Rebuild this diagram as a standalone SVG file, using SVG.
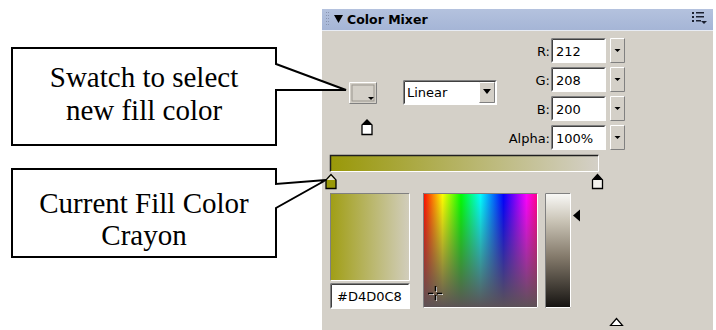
<svg xmlns="http://www.w3.org/2000/svg" width="716" height="330" viewBox="0 0 716 330">
  <style>
    .ui { font-family: "DejaVu Sans", "Liberation Sans", sans-serif; font-size: 13px; fill: #000; }
    .lbl { text-anchor: end; }
    .call { fill: #fff; stroke: #000; stroke-width: 2; stroke-linejoin: miter; }
    .ctext { font-family: "Liberation Serif", "Times New Roman", serif; font-size: 29px; fill: #000; text-anchor: middle; }
    .field { fill: #fff; }
    .sunkDark { fill: none; stroke: #404040; stroke-width: 1; }
    .sunkGray { fill: none; stroke: #808080; stroke-width: 1; }
    .btn { fill: #d4d0c8; }
    .hi { fill: none; stroke: #ffffff; stroke-width: 1; }
    .lo { fill: none; stroke: #808080; stroke-width: 1; }
    .crayon { stroke: #000; stroke-width: 1.3; stroke-linejoin: miter; }
  </style>
  <defs>
    <linearGradient id="titleGrad" x1="0" y1="0" x2="0" y2="1">
      <stop offset="0" stop-color="#b4c2de"/>
      <stop offset="1" stop-color="#a5b5d6"/>
    </linearGradient>
    <linearGradient id="rampGrad" x1="0" y1="0" x2="1" y2="0">
      <stop offset="0" stop-color="#999808"/>
      <stop offset="1" stop-color="#d4d0c8"/>
    </linearGradient>
    <linearGradient id="previewGrad" x1="0" y1="0" x2="1" y2="0">
      <stop offset="0" stop-color="#a09e14"/>
      <stop offset="1" stop-color="#d2cebe"/>
    </linearGradient>
    <linearGradient id="hueGrad" x1="0" y1="0" x2="1" y2="0">
      <stop offset="0" stop-color="#ff0000"/>
      <stop offset="0.17" stop-color="#ffff00"/>
      <stop offset="0.33" stop-color="#00ff00"/>
      <stop offset="0.5" stop-color="#00ffff"/>
      <stop offset="0.7" stop-color="#0000ff"/>
      <stop offset="0.9" stop-color="#ff00ff"/>
      <stop offset="1" stop-color="#ff0080"/>
    </linearGradient>
    <linearGradient id="satGrad" x1="0" y1="0" x2="0" y2="1">
      <stop offset="0" stop-color="#5c5256" stop-opacity="0"/>
      <stop offset="1" stop-color="#5c5256" stop-opacity="1"/>
    </linearGradient>
    <linearGradient id="lumGrad" x1="0" y1="0" x2="0" y2="1">
      <stop offset="0" stop-color="#fafaf8"/>
      <stop offset="0.25" stop-color="#c8c2b4"/>
      <stop offset="0.55" stop-color="#857b6c"/>
      <stop offset="1" stop-color="#141210"/>
    </linearGradient>
  </defs>

  <rect x="0" y="0" width="716" height="330" fill="#ffffff"/>

  <!-- Color Mixer panel -->
  <g id="panel">
    <rect x="322" y="9" width="391" height="321" fill="#d4d0c8"/>
    <rect x="322" y="9" width="391" height="21" fill="url(#titleGrad)"/>
    <line x1="322" y1="30.5" x2="713" y2="30.5" stroke="#e8ecf4" stroke-width="1"/>
    <!-- gripper -->
    <g fill="#8894b0">
      <rect x="326" y="12" width="1" height="1"/><rect x="328" y="12" width="1" height="1"/>
      <rect x="326" y="15" width="1" height="1"/><rect x="328" y="15" width="1" height="1"/>
      <rect x="326" y="18" width="1" height="1"/><rect x="328" y="18" width="1" height="1"/>
      <rect x="326" y="21" width="1" height="1"/><rect x="328" y="21" width="1" height="1"/>
      <rect x="326" y="24" width="1" height="1"/><rect x="328" y="24" width="1" height="1"/>
    </g>
    <polygon points="334,15 343,15 338.5,23" fill="#000"/>
    <text x="347" y="24" font-family="'DejaVu Sans', sans-serif" font-size="12.5" font-weight="bold" fill="#000">Color Mixer</text>
    <!-- panel menu icon -->
    <g fill="#1a2030">
      <rect x="692" y="12" width="2" height="2"/><rect x="696" y="12" width="8" height="1.5"/>
      <rect x="692" y="16" width="2" height="2"/><rect x="696" y="16" width="8" height="1.5"/>
      <rect x="692" y="20" width="2" height="2"/><rect x="696" y="20" width="5" height="1.5"/>
      <polygon points="701,21 707,21 704,24"/>
    </g>
  </g>

  <!-- fill swatch with its crayon -->
  <g id="swatch">
    <rect x="349" y="82" width="28" height="22" class="btn"/>
    <path d="M349.5,103.5 V82.5 H376.5" class="hi"/>
    <path d="M349.5,103.5 H376.5 V82.5" class="lo"/>
    <rect x="352" y="85" width="22" height="16" fill="#d4d0c8" stroke="#9a968e" stroke-width="1"/>
    <polygon points="368,97 374,97 371,100" fill="#000"/>
    <path d="M362,134.5 V125 L367,120 L372,125 V134.5 Z" class="crayon" fill="#fff"/>
    <polygon points="362,125 367,120 372,125" fill="#000"/>
  </g>

  <!-- fill type dropdown -->
  <g id="fill-type">
    <rect x="403" y="80" width="94" height="25" class="field"/>
    <path d="M403.5,104.5 V80.5 H496.5" class="sunkGray"/>
    <path d="M404.5,103.5 V81.5 H495.5" class="sunkDark"/>
    <rect x="479" y="82" width="16" height="21" class="btn"/>
    <path d="M479.5,102.5 V82.5 H494.5" class="hi"/>
    <path d="M479.5,102.5 H494.5 V82.5" class="lo"/>
    <polygon points="483,89 491,89 487,94" fill="#000"/>
    <text x="407" y="97" class="ui">Linear</text>
  </g>

  <!-- RGB / alpha fields -->
  <g id="rgb-fields">
    <g id="field-r">
      <text x="550" y="56" class="ui lbl">R:</text>
      <rect x="551" y="38" width="55" height="25" class="field"/>
      <path d="M551.5,62.5 V38.5 H605.5" class="sunkGray"/>
      <path d="M552.5,61.5 V39.5 H604.5" class="sunkDark"/>
      <text x="556" y="56" class="ui">212</text>
      <rect x="610" y="38" width="15" height="25" class="btn"/>
      <path d="M610.5,62.5 V38.5 H624.5" class="hi"/>
      <path d="M610.5,62.5 H624.5 V38.5" class="lo"/>
      <polygon points="614.5,49 620.5,49 617.5,52" fill="#000"/>
    </g>
    <g id="field-g">
      <text x="550" y="85" class="ui lbl">G:</text>
      <rect x="551" y="67" width="55" height="25" class="field"/>
      <path d="M551.5,91.5 V67.5 H605.5" class="sunkGray"/>
      <path d="M552.5,90.5 V68.5 H604.5" class="sunkDark"/>
      <text x="556" y="85" class="ui">208</text>
      <rect x="610" y="67" width="15" height="25" class="btn"/>
      <path d="M610.5,91.5 V67.5 H624.5" class="hi"/>
      <path d="M610.5,91.5 H624.5 V67.5" class="lo"/>
      <polygon points="614.5,78 620.5,78 617.5,81" fill="#000"/>
    </g>
    <g id="field-b">
      <text x="550" y="114" class="ui lbl">B:</text>
      <rect x="551" y="96" width="55" height="25" class="field"/>
      <path d="M551.5,120.5 V96.5 H605.5" class="sunkGray"/>
      <path d="M552.5,119.5 V97.5 H604.5" class="sunkDark"/>
      <text x="556" y="114" class="ui">200</text>
      <rect x="610" y="96" width="15" height="25" class="btn"/>
      <path d="M610.5,120.5 V96.5 H624.5" class="hi"/>
      <path d="M610.5,120.5 H624.5 V96.5" class="lo"/>
      <polygon points="614.5,107 620.5,107 617.5,110" fill="#000"/>
    </g>
    <g id="field-alpha">
      <text x="550" y="143" class="ui lbl">Alpha:</text>
      <rect x="551" y="125" width="55" height="25" class="field"/>
      <path d="M551.5,149.5 V125.5 H605.5" class="sunkGray"/>
      <path d="M552.5,148.5 V126.5 H604.5" class="sunkDark"/>
      <text x="556" y="143" class="ui">100%</text>
      <rect x="610" y="125" width="15" height="25" class="btn"/>
      <path d="M610.5,149.5 V125.5 H624.5" class="hi"/>
      <path d="M610.5,149.5 H624.5 V125.5" class="lo"/>
      <polygon points="614.5,136 620.5,136 617.5,139" fill="#000"/>
    </g>
  </g>

  <!-- gradient ramp with colour pointers -->
  <g id="gradient-ramp">
    <rect x="330" y="155" width="269" height="17" fill="url(#rampGrad)"/>
    <path d="M330.5,171.5 V155.5 H598.5" fill="none" stroke="#202020" stroke-width="1.5"/>
    <path d="M330.5,171.5 H598.5 V155.5" fill="none" stroke="#ffffff" stroke-width="1"/>
    <path d="M326,188.5 V180 L331,174.5 L336,180 V188.5 Z" class="crayon" fill="#999808"/>
    <polygon points="327,180 331,175.8 335,180" fill="#e8e6e0"/>
    <path d="M592.5,188.5 V180 L597.5,174.5 L602.5,180 V188.5 Z" class="crayon" fill="#f4f2ee"/>
    <polygon points="592.5,180 597.5,174.5 602.5,180" fill="#000"/>
  </g>

  <!-- preview swatch and hex field -->
  <g id="preview">
    <rect x="330" y="193" width="80" height="88" fill="url(#previewGrad)"/>
    <path d="M330.5,280.5 V193.5 H409.5" fill="none" stroke="#808080" stroke-width="1"/>
    <path d="M330.5,280.5 H409.5 V193.5" fill="none" stroke="#ffffff" stroke-width="1"/>
    <rect x="330" y="283" width="80" height="26" class="field"/>
    <path d="M330.5,308.5 V283.5 H409.5" class="sunkGray"/>
    <path d="M331.5,307.5 V284.5 H408.5" class="sunkDark"/>
    <text x="337" y="301" class="ui">#D4D0C8</text>
  </g>

  <!-- colour spectrum -->
  <g id="spectrum">
    <rect x="423" y="193" width="115" height="115" fill="url(#hueGrad)"/>
    <rect x="423" y="193" width="115" height="115" fill="url(#satGrad)"/>
    <path d="M423.5,307.5 V193.5 H537.5" fill="none" stroke="#808080" stroke-width="1"/>
    <path d="M423.5,307.5 H537.5 V193.5" fill="none" stroke="#ffffff" stroke-width="1"/>
    <g stroke="#e8e8e8" stroke-width="1" transform="translate(1,1)">
      <line x1="428" y1="293.5" x2="433" y2="293.5"/><line x1="437" y1="293.5" x2="442" y2="293.5"/>
      <line x1="435.5" y1="286" x2="435.5" y2="291"/><line x1="435.5" y1="295" x2="435.5" y2="300"/>
    </g>
    <g stroke="#000000" stroke-width="1.5">
      <line x1="428" y1="293.5" x2="433" y2="293.5"/><line x1="437" y1="293.5" x2="442" y2="293.5"/>
      <line x1="435.5" y1="286" x2="435.5" y2="291"/><line x1="435.5" y1="295" x2="435.5" y2="300"/>
    </g>
  </g>

  <!-- brightness slider -->
  <g id="brightness">
    <rect x="545" y="193" width="26" height="115" fill="url(#lumGrad)"/>
    <path d="M545.5,307.5 V193.5 H570.5" fill="none" stroke="#808080" stroke-width="1"/>
    <path d="M545.5,307.5 H570.5 V193.5" fill="none" stroke="#ffffff" stroke-width="1"/>
    <polygon points="573,215.5 580,209.5 580,221.5" fill="#000"/>
  </g>

  <!-- panel resize arrow -->
  <g id="expand-arrow">
    <polygon points="610.5,325.5 616.5,318.5 622.5,325.5" fill="#ffffff" stroke="#000" stroke-width="1.2"/>
  </g>

  <!-- callouts -->
  <g id="callout-swatch">
    <path d="M12,48 H276 V64 L346,90 H276 V145 H12 Z" class="call"/>
    <text x="144" y="87" class="ctext">Swatch to select</text>
    <text x="144" y="120" class="ctext">new fill color</text>
  </g>
  <g id="callout-crayon">
    <path d="M12,169 H276 V184 L326,180 L276,208 V257 H12 Z" class="call"/>
    <text x="144" y="213" class="ctext">Current Fill Color</text>
    <text x="144" y="245" class="ctext">Crayon</text>
  </g>
</svg>
